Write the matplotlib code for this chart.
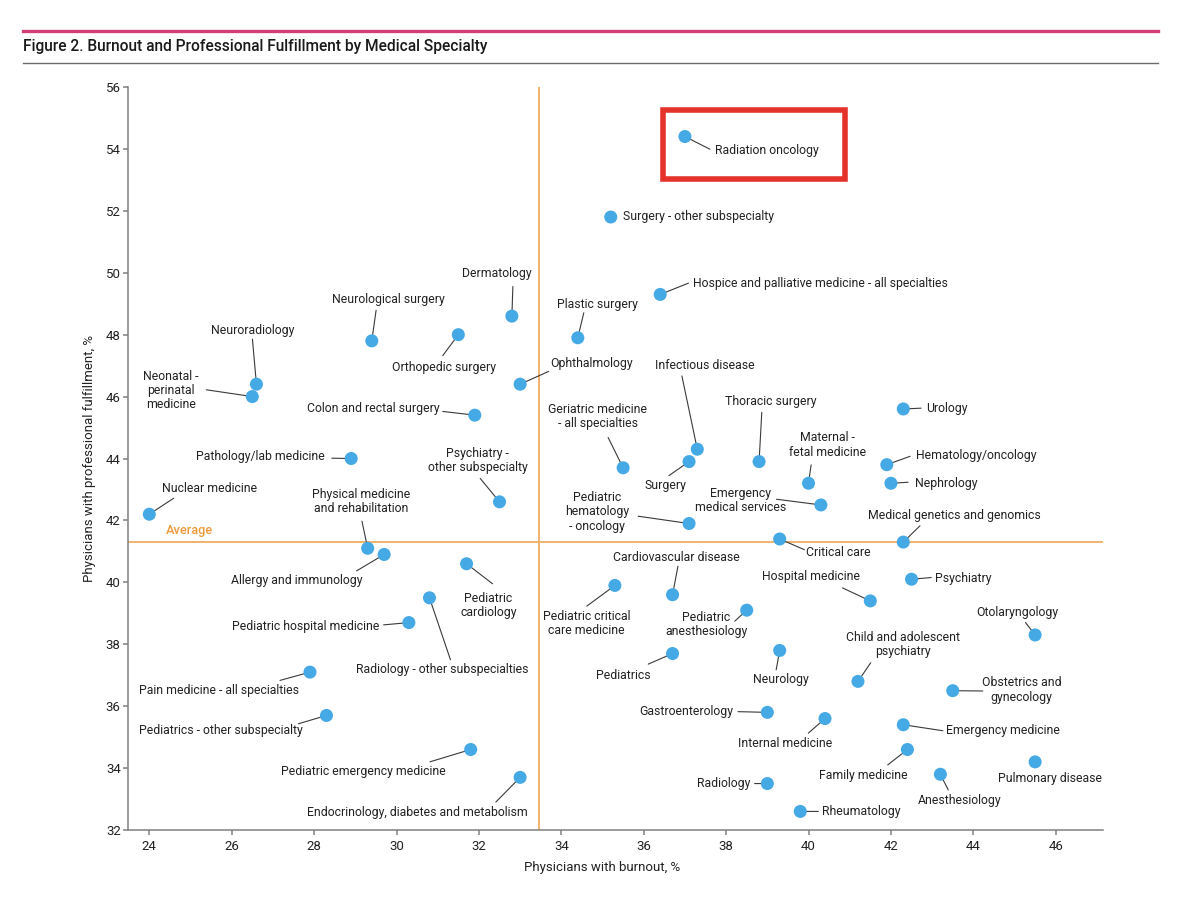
import matplotlib
matplotlib.use("Agg")
import matplotlib.pyplot as plt
from matplotlib.lines import Line2D
from matplotlib.patches import Rectangle
from matplotlib.transforms import IdentityTransform

plt.rcParams['font.family'] = ['Roboto', 'DejaVu Sans']

# ---------------- data ----------------
specialties = [
    "Radiation oncology", "Surgery - other subspecialty",
    "Hospice and palliative medicine - all specialties", "Plastic surgery",
    "Dermatology", "Neurological surgery", "Orthopedic surgery", "Neuroradiology",
    "Neonatal -\nperinatal\nmedicine", "Colon and rectal surgery", "Ophthalmology",
    "Infectious disease", "Pathology/lab medicine", "Nuclear medicine",
    "Psychiatry -\nother subspecialty", "Physical medicine\nand rehabilitation",
    "Allergy and immunology", "Pediatric\ncardiology", "Radiology - other subspecialties",
    "Pediatric hospital medicine", "Pain medicine - all specialties",
    "Pediatrics - other subspecialty", "Pediatric emergency medicine",
    "Endocrinology, diabetes and metabolism", "Geriatric medicine\n- all specialties",
    "Surgery", "Thoracic surgery", "Maternal -\nfetal medicine",
    "Emergency\nmedical services", "Urology", "Hematology/oncology", "Nephrology",
    "Medical genetics and genomics", "Pediatric\nhematology\n- oncology", "Critical care",
    "Cardiovascular disease", "Pediatric critical\ncare medicine", "Hospital medicine",
    "Psychiatry", "Pediatric\nanesthesiology", "Otolaryngology", "Pediatrics", "Neurology",
    "Child and adolescent\npsychiatry", "Obstetrics and\ngynecology", "Gastroenterology",
    "Internal medicine", "Emergency medicine", "Family medicine", "Pulmonary disease",
    "Anesthesiology", "Radiology", "Rheumatology",
]

burnout = [
    37.0, 35.2, 36.4, 34.4, 32.8, 29.4, 31.5, 26.6, 26.5, 31.9, 33.0,
    37.3, 28.9, 24.0, 32.5, 29.3, 29.7, 31.7, 30.8, 30.3, 27.9,
    28.3, 31.8, 33.0, 35.5, 37.1, 38.8, 40.0, 40.3, 42.3, 41.9, 42.0,
    42.3, 37.1, 39.3, 36.7, 35.3, 41.5, 42.5, 38.5, 45.5, 36.7, 39.3,
    41.2, 43.5, 39.0, 40.4, 42.3, 42.4, 45.5, 43.2, 39.0, 39.8,
]

fulfillment = [
    54.4, 51.8, 49.3, 47.9, 48.6, 47.8, 48.0, 46.4, 46.0, 45.4, 46.4,
    44.3, 44.0, 42.2, 42.6, 41.1, 40.9, 40.6, 39.5, 38.7, 37.1,
    35.7, 34.6, 33.7, 43.7, 43.9, 43.9, 43.2, 42.5, 45.6, 43.8, 43.2,
    41.3, 41.9, 41.4, 39.6, 39.9, 39.4, 40.1, 39.1, 38.3, 37.7, 37.8,
    36.8, 36.5, 35.8, 35.6, 35.4, 34.6, 34.2, 33.8, 33.5, 32.6,
]

avg_burnout = 33.45
avg_fulfillment = 41.3

x_ticks = [24, 26, 28, 30, 32, 34, 36, 38, 40, 42, 44, 46]
y_ticks = [32, 34, 36, 38, 40, 42, 44, 46, 48, 50, 52, 54, 56]

# ---------------- label layout (pixel offsets from each point) ----------------
# (text dx, text dy, horizontal alignment), leader-line end (dx, dy) or None
label_layout = [
    (30, -14, 'left', (25, -12.7)),
    (12, 1, 'left', None),
    (32.7, 11.3, 'left', (28.3, 11.3)),
    (19.3, 33, 'center', (6, 25)),
    (-15.5, 42.3, 'center', (1, 29.6)),
    (16.8, 41.3, 'center', (4.3, 30.6)),
    (-14.3, -32.7, 'center', (-15.6, -21)),
    (-4, 53.3, 'center', (-4, 45)),
    (-81.4, 6.3, 'center', (-46, 6.8)),
    (-101.8, 7, 'center', (-32, 3.7)),
    (71.3, 20.5, 'center', (28.6, 12.8)),
    (7.3, 83.3, 'center', (-15.4, 73.3)),
    (-91.2, 1.7, 'center', (-19.4, 0.3)),
    (60.7, 26, 'center', (24.4, 16)),
    (-22, 41.7, 'center', (-19.3, 23.4)),
    (-6.4, 46.7, 'center', (-5.7, 27)),
    (-87.5, -26, 'center', (-27.6, -16.4)),
    (22, -41.4, 'center', (26, -20)),
    (12.7, -71.7, 'center', (21, -62)),
    (-103.5, -4.3, 'center', (-25.3, -2.3)),
    (-90.5, -18.3, 'center', (-30, -8.3)),
    (-105.7, -14.7, 'center', (-28, -8.3)),
    (-107, -22, 'center', (-40.7, -12.3)),
    (-103, -34.7, 'center', (-24.3, -24.7)),
    (-25.5, 51.3, 'center', (-15, 30.3)),
    (-23.2, -23.6, 'center', (-20.1, -14)),
    (11.9, 60, 'center', (2.7, 49.3)),
    (19.3, 38.2, 'center', (2.6, 18.4)),
    (-79.9, 4.7, 'center', (-44.4, 5.7)),
    (22.8, 0.5, 'left', (17.8, 0.8)),
    (28.7, 9, 'left', (23.3, 8.4)),
    (24.1, -0.6, 'left', (17.1, 1)),
    (51.5, 26.6, 'center', (16.7, 16.3)),
    (-92.3, 11.7, 'center', (-50.9, 7.3)),
    (58.3, -14, 'center', (24.7, -10.7)),
    (4.2, 37.6, 'center', (5.4, 28.6)),
    (-28.1, -38.3, 'center', (-28.1, -20.7)),
    (-59.5, 24.3, 'center', (-27.8, 13)),
    (23.5, 0.7, 'left', (19.7, 1.7)),
    (-40.6, -14, 'center', (-12, -11)),
    (-17.5, 22.8, 'center', (-9.7, 12.5)),
    (-49.3, -22, 'center', (-24.3, -10.6)),
    (0.7, -29.3, 'center', (-3.5, -19.3)),
    (45, 36.7, 'center', (12.8, 18.7)),
    (68.6, 0.7, 'center', (30, -0.3)),
    (-81.4, 0.7, 'center', (-29.3, 0.7)),
    (-39.6, -25.3, 'center', (-16.7, -14.6)),
    (43.2, -5.7, 'left', (39.6, -6)),
    (-44, -26, 'center', (-19.7, -15.4)),
    (14.7, -16.7, 'center', None),
    (19.7, -26.7, 'center', (7.9, -15.7)),
    (-17, 0, 'right', (-12.7, 0)),
    (21.3, -0.3, 'left', (18, 0)),
]

# ---------------- styling ----------------
DOT = '#45A9E5'
ORANGE_LINE = '#F2B36E'
ORANGE_TEXT = '#EE9A3A'
TEXT = '#222222'
AXIS = '#808080'
LEADER = '#3a3a3a'
LABEL_FS = 8.8

W, H = 1200, 908
fig = plt.figure(figsize=(W / 100, H / 100), dpi=100)
fig.patch.set_facecolor('white')

ax_left, ax_right, ax_top, ax_bottom = 128.3, 1102.7, 87, 830
ax = fig.add_axes([ax_left / W, 1 - ax_bottom / H,
                   (ax_right - ax_left) / W, (ax_bottom - ax_top) / H])
ax.set_xlim(23.49, 47.14)
ax.set_ylim(32, 56)

for s in ['top', 'right']:
    ax.spines[s].set_visible(False)
for s in ['left', 'bottom']:
    ax.spines[s].set_color(AXIS)
    ax.spines[s].set_linewidth(1.1)

ax.set_xticks(x_ticks)
ax.set_yticks(y_ticks)
ax.tick_params(axis='both', direction='out', length=3.5, width=1.1, color=AXIS,
               labelsize=9.5, labelcolor=TEXT)
ax.tick_params(axis='x', pad=4)
ax.tick_params(axis='y', pad=2)

ax.set_xlabel("Physicians with burnout, %", fontsize=9.5, color=TEXT, va='center')
ax.xaxis.set_label_coords((602.5 - ax_left) / (ax_right - ax_left), -38 / (ax_bottom - ax_top))
ax.set_ylabel("Physicians with professional fulfillment, %", fontsize=9.5, color=TEXT, va='center')
ax.yaxis.set_label_coords((90 - ax_left) / (ax_right - ax_left), 0.5)

# average lines
ax.axvline(avg_burnout, color=ORANGE_LINE, lw=1.4, zorder=1)
ax.axhline(avg_fulfillment, color=ORANGE_LINE, lw=1.4, zorder=1)
ax.annotate("Average", xy=(0, avg_fulfillment), xycoords=('axes fraction', 'data'),
            xytext=(37.7, 11.3), textcoords='offset pixels', ha='left', va='center',
            color=ORANGE_TEXT, fontsize=LABEL_FS + 0.4, fontweight='medium')

# points
ax.scatter(burnout, fulfillment, s=88, color=DOT, edgecolors='none', zorder=4, clip_on=False)

for name, bx, fy, (tdx, tdy, ha, line) in zip(specialties, burnout, fulfillment, label_layout):
    if line is not None:
        ax.annotate('', xy=(bx, fy), xytext=line, textcoords='offset pixels',
                    arrowprops=dict(arrowstyle='-', color=LEADER, lw=0.8,
                                    shrinkA=0, shrinkB=0), zorder=2)
    ax.annotate(name, xy=(bx, fy), xytext=(tdx, tdy), textcoords='offset pixels',
                ha=ha, va='center', multialignment='center', fontsize=LABEL_FS,
                color=TEXT, linespacing=1.12, zorder=5)

# highlight box around Radiation oncology
i_ro = specialties.index("Radiation oncology")
px, py = ax.transData.transform((burnout[i_ro], fulfillment[i_ro]))
rect = Rectangle((px - 21.5, py - 42), 182, 69, transform=IdentityTransform(),
                 fill=False, edgecolor='#E5322B', lw=4.0, clip_on=False, zorder=6)
fig.add_artist(rect)

# header
fig.add_artist(Line2D([23 / W, 1158 / W], [1 - 31 / H, 1 - 31 / H],
                      color='#D33C74', lw=2.4, transform=fig.transFigure))
fig.add_artist(Line2D([23 / W, 1158 / W], [1 - 62.5 / H, 1 - 62.5 / H],
                      color='#6b6b6b', lw=1.0, transform=fig.transFigure))
fig.text(23 / W, 1 - 47 / H, "Figure 2. Burnout and Professional Fulfillment by Medical Specialty",
         ha='left', va='center', fontsize=11.2, fontweight='medium', color='#1a1a1a')

fig.savefig("out.png", dpi=100)
